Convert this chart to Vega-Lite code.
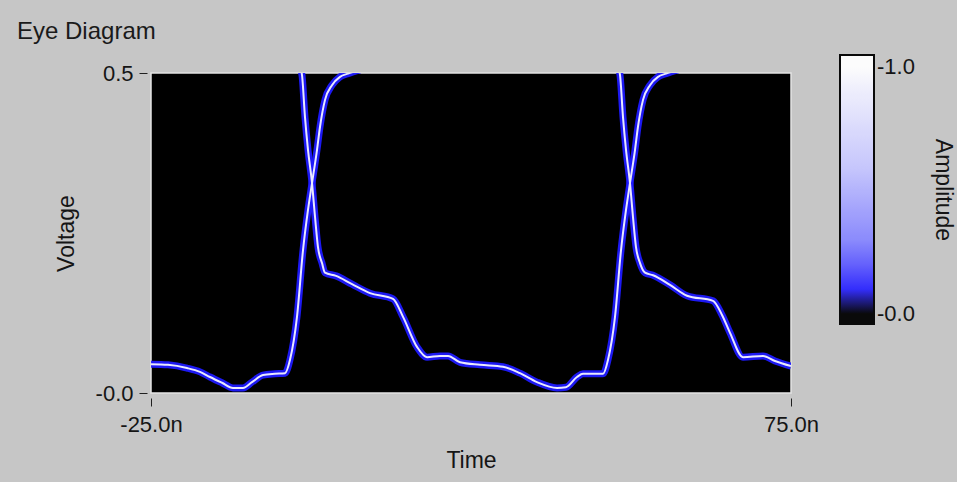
{
  "$schema": "https://vega.github.io/schema/vega-lite/v6.json",
  "width": 640,
  "height": 320,
  "autosize": {"type": "none"},
  "padding": {"left": 151, "top": 73, "right": 166, "bottom": 89},
  "background": "#c6c6c6",
  "title": {
    "text": "Eye Diagram",
    "anchor": "start",
    "frame": "group",
    "dx": -134,
    "dy": 22,
    "offset": 9,
    "baseline": "bottom",
    "font": "Liberation Sans",
    "fontSize": 24,
    "fontWeight": "normal",
    "color": "#1a1a1a"
  },
  "config": {
    "view": {"fill": "#000000", "stroke": "#e4e4e4", "strokeWidth": 1.5},
    "axis": {
      "labelFont": "Liberation Sans",
      "labelFontSize": 22,
      "labelColor": "#151515",
      "titleFont": "Liberation Sans",
      "titleFontSize": 23,
      "titleFontWeight": "normal",
      "titleColor": "#151515",
      "tickColor": "#202020",
      "tickWidth": 1,
      "domain": false,
      "grid": false
    }
  },
  "data": {
    "values": [
      {"s": "A", "t": -25.0, "v": 0.045},
      {"s": "A", "t": -22.34, "v": 0.044},
      {"s": "A", "t": -19.38, "v": 0.039},
      {"s": "A", "t": -17.34, "v": 0.033},
      {"s": "A", "t": -15.78, "v": 0.025},
      {"s": "A", "t": -13.91, "v": 0.016},
      {"s": "A", "t": -12.19, "v": 0.008},
      {"s": "A", "t": -10.63, "v": 0.008},
      {"s": "A", "t": -9.22, "v": 0.017},
      {"s": "A", "t": -7.5, "v": 0.028},
      {"s": "A", "t": -5.63, "v": 0.030},
      {"s": "A", "t": -4.06, "v": 0.031},
      {"s": "A", "t": -3.28, "v": 0.052},
      {"s": "A", "t": -2.19, "v": 0.119},
      {"s": "A", "t": -1.25, "v": 0.223},
      {"s": "A", "t": -0.47, "v": 0.286},
      {"s": "A", "t": 0.16, "v": 0.328},
      {"s": "A", "t": 0.94, "v": 0.380},
      {"s": "A", "t": 1.41, "v": 0.416},
      {"s": "A", "t": 2.19, "v": 0.458},
      {"s": "A", "t": 3.28, "v": 0.481},
      {"s": "A", "t": 4.53, "v": 0.494},
      {"s": "A", "t": 5.78, "v": 0.499},
      {"s": "A", "t": 7.66, "v": 0.505},
      {"s": "B", "t": -1.72, "v": 0.508},
      {"s": "B", "t": -1.41, "v": 0.497},
      {"s": "B", "t": -0.94, "v": 0.431},
      {"s": "B", "t": -0.47, "v": 0.380},
      {"s": "B", "t": 0.16, "v": 0.328},
      {"s": "B", "t": 0.63, "v": 0.275},
      {"s": "B", "t": 1.09, "v": 0.228},
      {"s": "B", "t": 1.72, "v": 0.203},
      {"s": "B", "t": 2.19, "v": 0.188},
      {"s": "B", "t": 3.91, "v": 0.183},
      {"s": "B", "t": 6.41, "v": 0.170},
      {"s": "B", "t": 9.22, "v": 0.156},
      {"s": "B", "t": 12.81, "v": 0.147},
      {"s": "B", "t": 14.38, "v": 0.119},
      {"s": "B", "t": 16.56, "v": 0.072},
      {"s": "B", "t": 18.13, "v": 0.056},
      {"s": "B", "t": 20.16, "v": 0.058},
      {"s": "B", "t": 21.41, "v": 0.058},
      {"s": "B", "t": 23.28, "v": 0.048},
      {"s": "B", "t": 26.41, "v": 0.044},
      {"s": "B", "t": 30.0, "v": 0.041},
      {"s": "B", "t": 32.66, "v": 0.031},
      {"s": "B", "t": 35.31, "v": 0.017},
      {"s": "B", "t": 38.44, "v": 0.008},
      {"s": "B", "t": 39.84, "v": 0.009},
      {"s": "B", "t": 41.56, "v": 0.025},
      {"s": "B", "t": 42.5, "v": 0.030},
      {"s": "B", "t": 45.63, "v": 0.030},
      {"s": "B", "t": 46.41, "v": 0.052},
      {"s": "B", "t": 47.5, "v": 0.119},
      {"s": "B", "t": 48.44, "v": 0.223},
      {"s": "B", "t": 49.22, "v": 0.286},
      {"s": "B", "t": 49.84, "v": 0.328},
      {"s": "B", "t": 50.63, "v": 0.380},
      {"s": "B", "t": 51.09, "v": 0.416},
      {"s": "B", "t": 51.88, "v": 0.458},
      {"s": "B", "t": 52.97, "v": 0.481},
      {"s": "B", "t": 54.22, "v": 0.494},
      {"s": "B", "t": 55.47, "v": 0.499},
      {"s": "B", "t": 57.34, "v": 0.505},
      {"s": "C", "t": 47.97, "v": 0.508},
      {"s": "C", "t": 48.28, "v": 0.497},
      {"s": "C", "t": 48.75, "v": 0.431},
      {"s": "C", "t": 49.22, "v": 0.380},
      {"s": "C", "t": 49.84, "v": 0.328},
      {"s": "C", "t": 50.31, "v": 0.275},
      {"s": "C", "t": 50.78, "v": 0.228},
      {"s": "C", "t": 51.41, "v": 0.203},
      {"s": "C", "t": 52.19, "v": 0.188},
      {"s": "C", "t": 53.44, "v": 0.184},
      {"s": "C", "t": 56.09, "v": 0.169},
      {"s": "C", "t": 58.75, "v": 0.152},
      {"s": "C", "t": 62.81, "v": 0.144},
      {"s": "C", "t": 64.22, "v": 0.122},
      {"s": "C", "t": 65.47, "v": 0.094},
      {"s": "C", "t": 67.5, "v": 0.056},
      {"s": "C", "t": 70.63, "v": 0.058},
      {"s": "C", "t": 72.5, "v": 0.050},
      {"s": "C", "t": 75.0, "v": 0.042}
    ]
  },
  "layer": [
    {
      "mark": {"type": "line", "interpolate": "monotone", "strokeWidth": 7, "opacity": 0.95, "clip": true},
      "encoding": {
        "x": {
          "field": "t",
          "type": "quantitative",
          "scale": {"domain": [-25, 75], "nice": false, "zero": false},
          "axis": {
            "title": "Time",
            "values": [-25, 75],
            "labelExpr": "(datum.value < 0 ? '-' : '') + format(abs(datum.value), '.1f') + 'n'",
            "labelFlush": false,
            "offset": 5,
            "tickSize": 8,
            "labelPadding": 8,
            "titlePadding": 14
          }
        },
        "y": {
          "field": "v",
          "type": "quantitative",
          "scale": {"domain": [0, 0.5], "nice": false},
          "axis": {
            "title": "Voltage",
            "values": [0, 0.5],
            "labelExpr": "datum.value == 0 ? '-0.0' : format(datum.value, '.1f')",
            "offset": 4,
            "tickSize": 8,
            "labelPadding": 6,
            "titlePadding": 17
          }
        },
        "detail": {"field": "s"},
        "color": {
          "datum": 0.085,
          "type": "quantitative",
          "scale": {
            "type": "linear",
            "domain": [-0.041, 0.035, 0.065, 0.3, 0.6, 0.9, 1.0, 1.049],
            "range": ["#000000", "#000000", "#0000ff", "#8888ff", "#c8c8ff", "#f0f0ff", "#ffffff", "#ffffff"],
            "clamp": true
          },
          "legend": {
            "orient": "none",
            "legendX": 689,
            "legendY": -18,
            "direction": "vertical",
            "gradientLength": 269,
            "gradientThickness": 34,
            "gradientStrokeColor": "#000000",
            "gradientStrokeWidth": 2,
            "values": [0, 1],
            "labelExpr": "'-' + format(datum.value, '.1f')",
            "labelFont": "Liberation Sans",
            "labelFontSize": 22,
            "labelColor": "#151515",
            "labelOffset": 3,
            "labelOverlap": false,
            "title": "Amplitude",
            "titleOrient": "right",
            "titleAnchor": "middle",
            "titleFont": "Liberation Sans",
            "titleFontSize": 23,
            "titleFontWeight": "normal",
            "titleColor": "#151515",
            "titlePadding": 16,
            "padding": 0
          }
        }
      }
    },
    {
      "mark": {"type": "line", "interpolate": "monotone", "strokeWidth": 2, "clip": true},
      "encoding": {
        "x": {"field": "t", "type": "quantitative"},
        "y": {"field": "v", "type": "quantitative"},
        "detail": {"field": "s"},
        "color": {"datum": 0.85, "type": "quantitative"}
      }
    }
  ]
}
